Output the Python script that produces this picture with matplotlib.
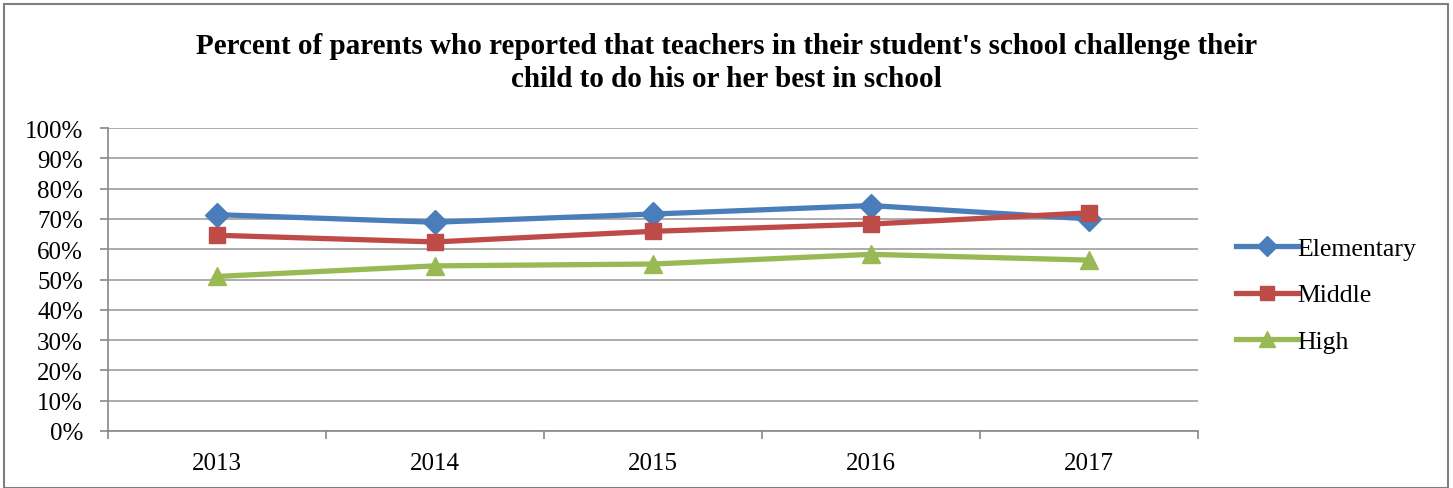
import numpy as np
import matplotlib.pyplot as plt
from matplotlib.patches import Rectangle

plt.rcParams.update({
    "font.family": ["Liberation Serif", "DejaVu Serif"],
    "font.size": 18,
})

years = ["2013", "2014", "2015", "2016", "2017"]
elementary = [71.4, 68.9, 71.6, 74.4, 70.0]
middle = [64.6, 62.4, 65.9, 68.3, 72.0]
high = [51.0, 54.5, 55.1, 58.3, 56.4]

series = [
    ("Elementary", elementary, "#4A7EBB", "D", 12),
    ("Middle", middle, "#BE4B48", "s", 12),
    ("High", high, "#98B954", "^", 13),
]

fig = plt.figure(figsize=(14.53, 4.89), dpi=100)
ax = fig.add_axes([108 / 1453, 1 - 432 / 489, 1090 / 1453, 303 / 489])

x = np.arange(len(years))
for name, vals, col, mk, ms in series:
    ax.plot(x, vals, color=col, lw=3.8, marker=mk, ms=ms,
            markeredgecolor=col, label=name, zorder=3)

ax.set_ylim(0, 100)
ax.set_yticks(np.arange(0, 101, 10))
ax.set_yticklabels([f"{v}%" for v in range(0, 101, 10)])
ax.set_xlim(-0.5, len(years) - 0.5)
ax.set_xticks(np.arange(-0.5, len(years), 1.0))
ax.set_xticklabels([])
ax.set_xticks(x, minor=True)
ax.set_xticklabels(years, minor=True)
ax.tick_params(axis="x", which="major", length=6, color="#888888", width=1.2)
ax.tick_params(axis="x", which="minor", length=0, pad=15)
ax.tick_params(axis="y", length=6, color="#888888", width=1.2, pad=12)
ax.grid(axis="y", color="#A6A6A6", lw=1.3, zorder=0)
for s in ["top", "right"]:
    ax.spines[s].set_visible(False)
for s in ["left", "bottom"]:
    ax.spines[s].set_color("#888888")
    ax.spines[s].set_linewidth(1.2)

fig.text(0.5, 1 - 63 / 489,
         "Percent of parents who reported that teachers in their student's school challenge their\n"
         "child to do his or her best in school",
         ha="center", va="center", fontsize=21, fontweight="bold", linespacing=1.3)

leg = fig.legend(loc="center left", bbox_to_anchor=(1236 / 1453, 1 - 296 / 489),
                 frameon=False, fontsize=18.5, handlelength=2.4, labelspacing=0.9,
                 handletextpad=0.0, borderaxespad=0, borderpad=0, markerscale=0.85)

fig.patches.append(Rectangle((4 / 1453, 0), 1444 / 1453, 1 - 5 / 489,
                             transform=fig.transFigure, fill=False,
                             edgecolor="#7F7F7F", lw=1.5))

fig.savefig("out.png", dpi=100)
